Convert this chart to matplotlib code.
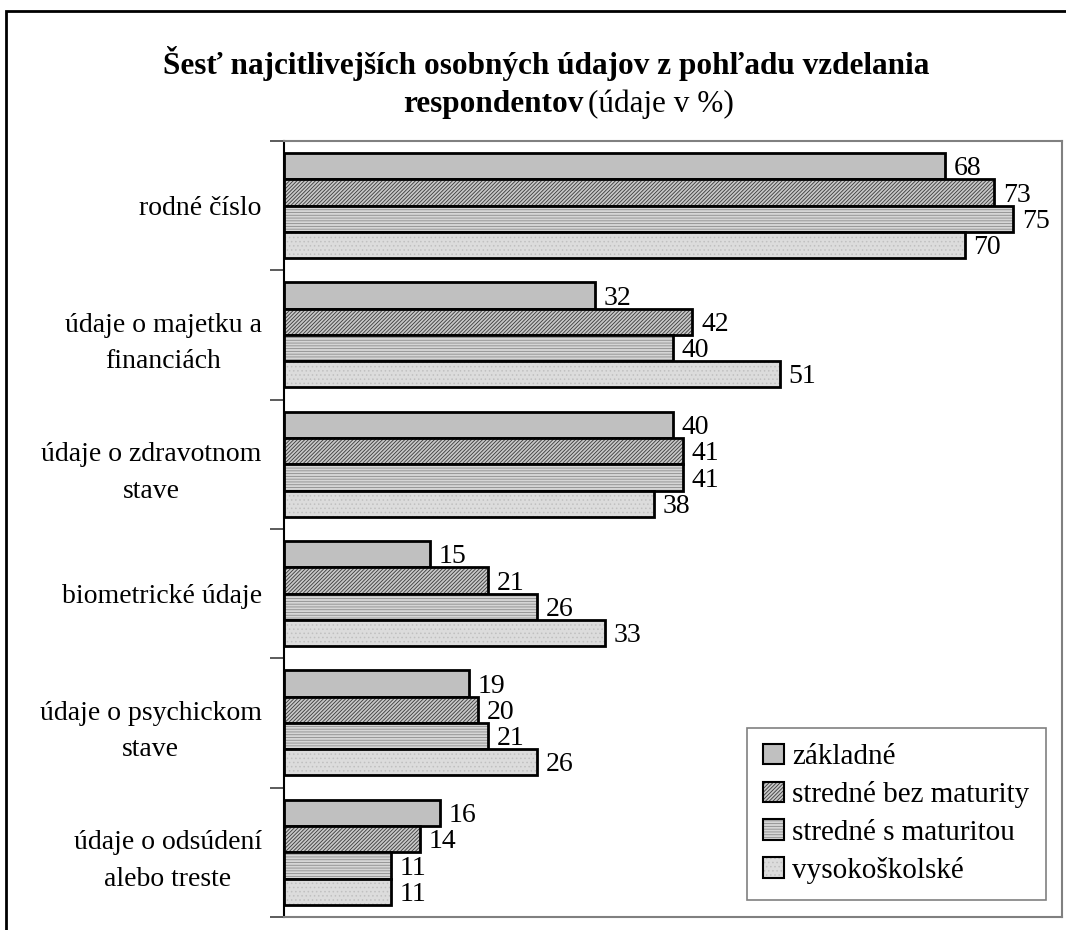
import numpy as np
import matplotlib.pyplot as plt
from matplotlib.patches import Patch, Rectangle

plt.rcParams['font.family'] = ['Liberation Serif', 'DejaVu Serif']
plt.rcParams['hatch.linewidth'] = 0.6

# data
categories = ['rodné číslo', 'údaje o majetku a\nfinanciách', 'údaje o zdravotnom\nstave',
              'biometrické údaje', 'údaje o psychickom\nstave', 'údaje o odsúdení\nalebo treste']
series = ['základné', 'stredné bez maturity', 'stredné s maturitou', 'vysokoškolské']
zakladne = [68, 32, 40, 15, 19, 16]
bez_maturity = [73, 42, 41, 21, 20, 14]
s_maturitou = [75, 40, 41, 26, 21, 11]
vysokoskolske = [70, 51, 38, 33, 26, 11]
values = [zakladne, bez_maturity, s_maturitou, vysokoskolske]

# styles: facecolor, hatch, hatch color
styles = [('#c0c0c0', None, '#c0c0c0'),
          ('#c8c8c8', '/////////', '#3a3a3a'),
          ('#d6d6d6', '------', '#8c8c8c'),
          ('#dcdcdc', '....', '#c0c0c0')]

fig = plt.figure(figsize=(10.66, 9.3), dpi=100)
ax = fig.add_axes([0.2664, 0.0140, 0.7298, 0.8344])

y = np.arange(len(categories))
h = 0.203
offsets = (np.arange(4) - 1.5) * h

for vals, off, (fc, hatch, hc) in zip(values, offsets, styles):
    ax.barh(y + off, vals, height=h, color=fc, hatch=hatch, edgecolor=hc, linewidth=0)
    ax.barh(y + off, vals, height=h, fill=False, edgecolor='black', linewidth=2)
    for yi, v in zip(y + off, vals):
        ax.text(v + 0.9, yi + 0.02, str(v), ha='left', va='center', fontsize=20)

ax.set_xlim(0, 80)
ax.set_ylim(len(categories) - 0.5, -0.5)
ax.set_xticks([])
ax.set_yticks(y)
ax.set_yticklabels(categories, fontsize=20, ha='right', multialignment='center',
                   linespacing=1.6)
ax.tick_params(axis='y', which='major', length=0, pad=16)
ax.set_yticks(np.arange(len(categories) + 1) - 0.5, minor=True)
ax.tick_params(axis='y', which='minor', length=10, width=1.2, color='#404040')

for s in ['top', 'right', 'bottom']:
    ax.spines[s].set_color('#808080')
    ax.spines[s].set_linewidth(1.5)
ax.spines['left'].set_color('black')
ax.spines['left'].set_linewidth(1.5)

handles = [(Patch(facecolor=fc, hatch=hatch, edgecolor=hc, linewidth=0),
            Patch(fill=False, edgecolor='black', linewidth=1.5)) for fc, hatch, hc in styles]
leg = ax.legend(handles, series, loc='lower right', bbox_to_anchor=(0.979, 0.022),
                borderaxespad=0, fontsize=21, frameon=True, fancybox=False,
                handlelength=0.7, handleheight=0.7, handletextpad=0.3,
                labelspacing=0.38, borderpad=0.55)
leg.get_frame().set_edgecolor('#606060')
leg.get_frame().set_linewidth(1.2)

# title
fig.text(0.512, 0.932, 'Šesť najcitlivejších osobných údajov z pohľadu vzdelania',
         ha='center', va='center', fontsize=22.5, fontweight='bold')
fig.text(0.547, 0.888, 'respondentov', ha='right', va='center', fontsize=22.5, fontweight='bold')
fig.text(0.552, 0.888, '(údaje v %)', ha='left', va='center', fontsize=22.5)

# outer frame
fig.patches.append(Rectangle((6 / 1066, -0.01), 1.1, 1 - 11 / 930 + 0.01,
                             transform=fig.transFigure, fill=False,
                             edgecolor='black', linewidth=2))

fig.savefig('out.png', dpi=100)
